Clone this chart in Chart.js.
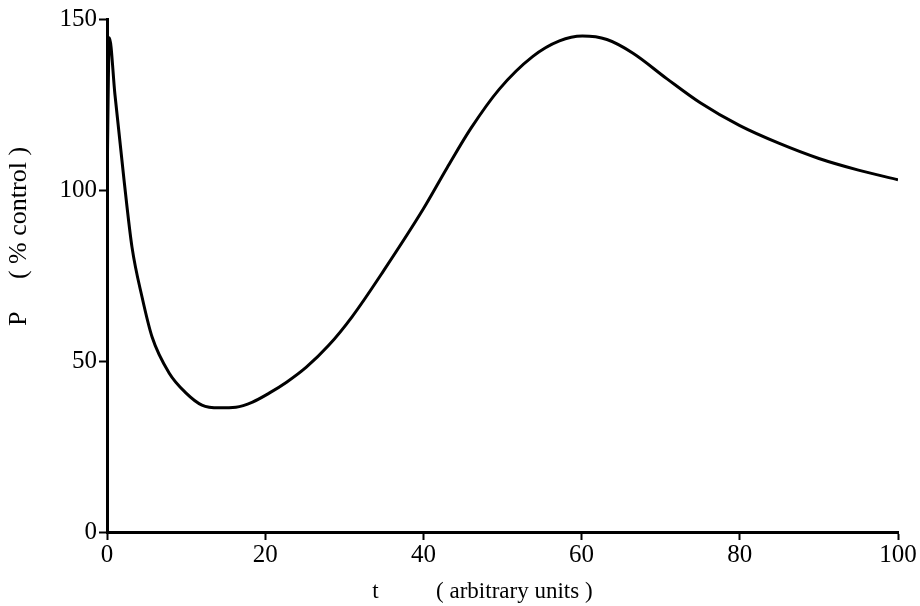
<!DOCTYPE html>
<html>
<head>
<meta charset="utf-8">
<script src="https://cdn.jsdelivr.net/npm/chart.js@4/dist/chart.umd.min.js"></script>
<style>
  html, body { margin: 0; padding: 0; background: #fff; }
  .chart-container { position: relative; width: 920px; height: 606px; }
</style>
</head>
<body>
<div class="chart-container"><canvas id="myChart"></canvas></div>
<script>
// t (arbitrary units) and P (% control)
const tValues = [0, 0.3, 1.0, 2.15, 3.16, 4.43, 5.7, 7.85, 10, 12, 14.2, 16.3, 18.4, 20.5, 22.7, 25.2, 28, 31, 35, 40, 43, 46, 49.6, 53.8, 57.2, 60.1, 63.2, 66.5, 70.8, 75, 80, 85, 90, 95, 100];
const pValues = [100, 144.5, 128, 103, 83.3, 68.7, 57, 46.5, 40.6, 37.1, 36.3, 36.5, 38, 40.6, 43.8, 48.2, 54.5, 63, 76.5, 94.5, 106.5, 118, 129.5, 139, 143.6, 145, 144, 140, 132.5, 125.5, 118.8, 113.6, 109.2, 105.8, 103];
const xTicks = [0, 20, 40, 60, 80, 100];
const yTicks = [0, 50, 100, 150];

const serif = '"Liberation Serif", "DejaVu Serif", serif';

const points = tValues.map((t, i) => ({ x: t, y: pValues[i] }));

const ctx = document.getElementById('myChart').getContext('2d');

new Chart(ctx, {
  type: 'scatter',
  data: {
    datasets: [
      {
        data: points,
        showLine: true,
        borderColor: '#000',
        borderWidth: 3,
        pointRadius: 0,
        cubicInterpolationMode: 'monotone',
        fill: false,
      },
    ],
  },
  options: {
    responsive: true,
    maintainAspectRatio: false,
    animation: false,
    layout: {
      padding: { left: 4, top: 19, right: 22, bottom: 0 },
    },
    plugins: {
      legend: { display: false },
      tooltip: { enabled: false },
    },
    scales: {
      x: {
        type: 'linear',
        min: 0,
        max: 100,
        afterBuildTicks: scale => {
          scale.ticks = xTicks.map(v => ({ value: v }));
        },
        afterFit: scale => {
          scale.height = 74;
        },
        grid: {
          drawOnChartArea: false,
          drawTicks: true,
          tickLength: 8,
          tickWidth: 2,
          tickColor: '#000',
        },
        border: { color: '#000', width: 3 },
        ticks: {
          color: '#000',
          padding: 0,
          font: { family: serif, size: 25 },
        },
        title: {
          display: true,
          text: 't          ( arbitrary units )       ',
          color: '#000',
          padding: { top: 4, bottom: 0 },
          font: { family: serif, size: 23 },
        },
      },
      y: {
        type: 'linear',
        min: 0,
        max: 150,
        afterBuildTicks: scale => {
          scale.ticks = yTicks.map(v => ({ value: v }));
        },
        afterFit: scale => {
          scale.width = 103;
        },
        grid: {
          drawOnChartArea: false,
          drawTicks: true,
          tickLength: 8,
          tickWidth: 2,
          tickColor: '#000',
        },
        border: { color: '#000', width: 3 },
        ticks: {
          color: '#000',
          padding: 2,
          font: { family: serif, size: 25 },
        },
        title: {
          display: true,
          text: '            P     ( % control )',
          color: '#000',
          padding: { top: 0, bottom: 0 },
          font: { family: serif, size: 26 },
        },
      },
    },
  },
});
</script>
</body>
</html>
